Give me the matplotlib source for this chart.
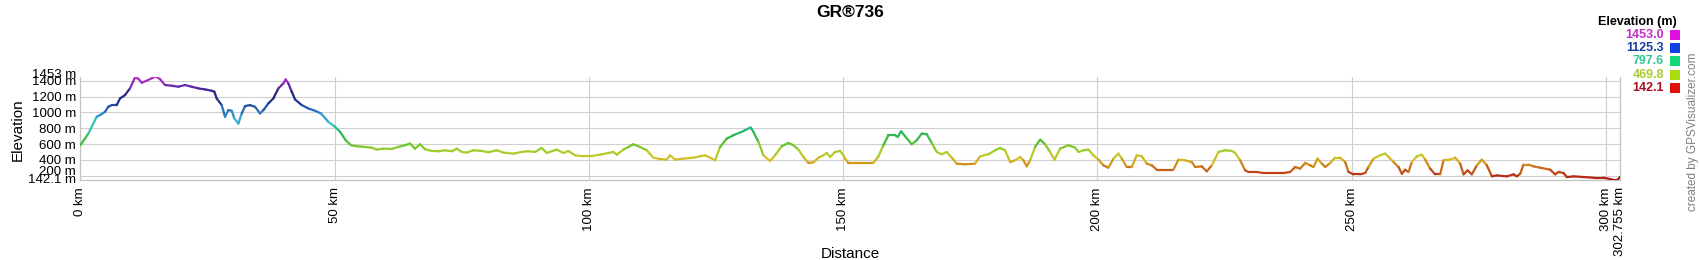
import matplotlib
matplotlib.use("Agg")
import matplotlib.pyplot as plt
import numpy as np
from matplotlib.collections import LineCollection
from matplotlib.colors import LinearSegmentedColormap, Normalize
from matplotlib.patches import Rectangle
from matplotlib.transforms import ScaledTranslation

plt.rcParams['font.family'] = ['Liberation Sans', 'DejaVu Sans']

# distance along the route (km) and elevation (m)
dist_km = [
    0, 1.58, 3.22, 3.87, 4.86, 5.51, 6.17, 7.15, 7.81, 8.79, 9.77, 10.76, 11.41,
    12.07, 13.05, 14.03, 14.8, 15.67, 16.66, 17.97, 19.28, 20.59, 21.90, 23.21,
    24.53, 25.83, 26.36, 26.82, 27.80, 28.46, 29.11, 29.77, 30.29, 31.08, 31.74,
    32.39, 33.37, 34.36, 35.34, 36.0, 36.98, 37.96, 38.95, 39.93, 40.39, 40.91,
    41.57, 42.23, 43.54, 44.85, 46.16, 47.34, 48.78, 49.96, 51.08, 52.19, 53.24,
    54.35, 55.99, 57.30, 58.28, 59.59, 61.23, 62.54, 63.85, 64.84, 65.82, 66.80,
    67.79, 69.10, 70.41, 71.72, 73.03, 74.02, 75.00, 75.99, 77.30,
    78.93, 80.24, 81.88, 83.19, 85.16, 86.8, 88.11, 89.42, 90.73, 91.71, 93.68,
    94.99, 95.97, 97.28, 98.92, 100.23, 102.2, 103.84, 104.82, 105.48, 106.79,
    107.77, 108.76, 110.07, 111.38, 112.69, 114.0, 115.31, 115.97, 116.95,
    118.59, 120.56, 121.87, 122.85, 123.83, 124.82, 125.8, 127.11, 128.42,
    130.06, 131.37, 131.83, 132.35, 133.34, 134.32, 135.63, 136.61, 137.93,
    139.24, 140.22, 141.2, 142.19, 143.17, 144.15, 145.14, 146.12, 146.78,
    147.43, 148.41, 149.4, 150.05,
    150.38, 151.04, 153.66, 155.95, 156.94, 157.92, 158.9, 160.21, 160.74,
    161.39, 162.18, 163.49, 164.47, 165.46, 166.44, 167.42, 168.41, 169.39,
    170.37, 171.36, 172.34, 173.98, 175.94, 176.93, 178.57, 179.88, 180.86,
    181.84, 182.83, 183.81, 184.8, 185.45, 186.11, 186.76, 187.74, 188.73,
    189.71, 190.69, 191.55, 192.66, 194.3, 195.61, 196.27, 197.25, 198.23,
    199.21, 200.2, 201.18, 202.16, 203.15, 204.13, 204.79, 205.77, 206.75,
    207.74, 208.72, 209.7, 210.69, 211.67, 213.31, 214.95, 215.93, 217.24,
    218.55, 219.21, 220.52, 221.5, 222.49, 223.8, 225.11, 226.42,
    227.08, 228.07, 229.05, 229.71, 231.34, 232.66, 234.62, 236.59, 237.9,
    238.88, 239.87, 240.85, 241.83, 242.49, 243.27, 244.13, 244.78, 245.77,
    246.75, 247.73, 248.71, 249.37, 250.35, 251.66, 252.65, 253.3, 254.29,
    255.6, 256.58, 257.24, 258.22, 259.2, 259.86, 260.51, 261.17, 261.82,
    262.81, 263.79, 264.45, 265.43, 266.41, 267.4, 268.05, 268.71, 269.36,
    270.35, 271.33, 271.99, 272.77, 273.62, 274.61, 275.59, 276.57, 277.56,
    278.54, 280.51, 281.82, 282.47, 283.13, 283.78, 284.77, 285.75, 287.06,
    289.03, 290.01, 290.67, 291.65, 292.31, 293.62, 295.58, 297.55, 299.52,
    300.83, 301.8, 302.3, 302.755,
]
elev_m = [
    585, 732, 944, 965, 1007, 1070, 1092, 1092, 1176, 1218, 1303, 1440, 1425,
    1375, 1400, 1430, 1453, 1420, 1345, 1337, 1324, 1345, 1324, 1303,
    1290, 1273, 1261, 1176, 1092, 944, 1028, 1020, 923, 859, 986,
    1079, 1092, 1070, 986, 1028, 1113, 1176, 1303, 1366, 1415, 1366,
    1261, 1163, 1092, 1049, 1020, 986, 880, 825, 754, 648, 585,
    572, 563, 555, 530, 542, 538, 563, 585, 606, 542, 597,
    534, 513, 509, 521, 509, 542, 500, 492, 521,
    513, 496, 521, 492, 479, 500, 509, 500, 551, 487, 530,
    487, 513, 458, 445, 445, 466, 487, 500, 466, 530,
    563, 597, 563, 521, 428, 411, 403, 458, 403,
    416, 428, 445, 458, 428, 394, 563, 669, 711,
    754, 796, 808, 754, 627, 458, 386, 458, 572,
    614, 585, 530, 437, 361, 369, 428, 458, 487,
    437, 500, 513, 458,
    416, 361, 361, 361, 445, 585, 711, 711, 690,
    762, 699, 597, 648, 732, 724, 614, 500, 471,
    500, 428, 352, 344, 352, 445, 471, 521, 551,
    521, 373, 394, 437, 394, 318, 394, 563, 656,
    597, 500, 403, 542, 585, 555, 500, 521, 530,
    458, 403, 331, 301, 416, 479, 416, 310, 310,
    458, 445, 352, 331, 276, 276, 276, 403, 394,
    373, 310, 318, 255, 331, 500, 521, 513,
    487, 394, 268, 247, 247, 234, 234, 234, 247,
    310, 289, 361, 331, 310, 416, 352, 310, 361,
    428, 428, 373, 247, 217, 217, 234, 310, 416,
    458, 479, 437, 373, 310, 225, 276, 247, 373,
    445, 466, 403, 289, 217, 217, 394, 394, 403,
    428, 352, 217, 268, 217, 331, 403, 331, 192,
    204, 192, 217, 192, 225, 340, 340, 318, 301,
    276, 217, 247, 234, 183, 192, 183, 175, 175,
    158, 142.1, 150, 185,
]

x_ticks = [0, 50, 100, 150, 200, 250, 300, 302.755]
x_labels = ['0 km', '50 km', '100 km', '150 km', '200 km', '250 km',
            '300 km', '302.755 km']
y_ticks = [142.1, 200, 400, 600, 800, 1000, 1200, 1400, 1453]
y_labels = ['142.1 m', '200 m', '400 m', '600 m', '800 m', '1000 m',
            '1200 m', '1400 m', '1453 m']

legend_vals = ['1453.0', '1125.3', '797.6', '469.8', '142.1']
legend_text_cols = ['#c030c8', '#1a3d9c', '#2fc88f', '#a8cc30', '#a81020']
legend_box_cols = ['#e010e0', '#1040e0', '#10d878', '#a8dc10', '#e01010']

elev_min, elev_max = 142.1, 1453.0

cmap = LinearSegmentedColormap.from_list('elev', [
    (0.00, '#b01414'),
    (0.08, '#c04a16'),
    (0.15, '#d08a1c'),
    (0.21, '#d4c226'),
    (0.27, '#a8d02a'),
    (0.33, '#78c82c'),
    (0.38, '#40c038'),
    (0.47, '#20b466'),
    (0.55, '#38c6d4'),
    (0.66, '#2a78be'),
    (0.75, '#1c3894'),
    (0.83, '#22247a'),
    (0.90, '#5a28a4'),
    (0.96, '#a030c8'),
    (1.00, '#cc30cc'),
])

fig = plt.figure(figsize=(17, 2.6), dpi=100)
ax = fig.add_axes([80.3 / 1700, 1 - 180.3 / 260, 1539.7 / 1700, 103.8 / 260])

x = np.array(dist_km)
y = np.array(elev_m)
pts = np.column_stack([x, y]).reshape(-1, 1, 2)
segs = np.concatenate([pts[:-1], pts[1:]], axis=1)
lc = LineCollection(segs, cmap=cmap, norm=Normalize(elev_min, elev_max),
                    linewidth=1.6, capstyle='round', joinstyle='round', zorder=3)
lc.set_array((y[:-1] + y[1:]) / 2)
ax.add_collection(lc)

ax.set_xlim(0, 302.755)
ax.set_ylim(elev_min, elev_max)
ax.set_xticks(x_ticks)
ax.set_xticklabels(x_labels, rotation=90)
ax.set_yticks(y_ticks)
ax.set_yticklabels(y_labels)
ax.tick_params(length=0, labelsize=9.5, colors='#000000')
ax.tick_params(axis='y', pad=3)
ax.tick_params(axis='x', pad=5)

# the crowded labels are nudged apart like in the original
nudges = {0: 1.5, 1: 5.5, 8: 3.5}
for i, lab in enumerate(ax.get_yticklabels()):
    if i in nudges:
        lab.set_transform(lab.get_transform() +
                          ScaledTranslation(0, nudges[i] / 100, fig.dpi_scale_trans))

ax.grid(True, color='#cfcfcf', linewidth=0.8, zorder=0)
ax.get_ygridlines()[-1].set_visible(False)
ax.spines['top'].set_visible(False)
for s in ['left', 'right', 'bottom']:
    ax.spines[s].set_color('#c4c4c4')
    ax.spines[s].set_linewidth(0.9)

ax.set_ylabel('Elevation', fontsize=11)
ax.yaxis.set_label_coords(-0.036, 0.49)
ax.set_xlabel('Distance', fontsize=11)
ax.xaxis.set_label_coords(0.5, -0.64)

fig.text(0.5, 1 - 12 / 260, 'GR®736', ha='center', va='center',
         fontsize=12.5, fontweight='bold')

# legend
fig.text(1677 / 1700, 1 - 21.5 / 260, 'Elevation (m)', ha='right', va='center',
         fontsize=9, fontweight='bold')
for i, (v, tc, bc) in enumerate(zip(legend_vals, legend_text_cols, legend_box_cols)):
    yc = 35 + i * 13.2
    fig.text(1664 / 1700, 1 - yc / 260, v, ha='right', va='center',
             fontsize=9, fontweight='bold', color=tc)
    fig.patches.append(Rectangle((1670 / 1700, 1 - (yc + 5) / 260), 10 / 1700, 10 / 260,
                                 transform=fig.transFigure, facecolor=bc,
                                 edgecolor='none', figure=fig))

fig.text(1693 / 1700, 1 - 131.5 / 260, 'created by GPSVisualizer.com',
         rotation=90, ha='center', va='center', fontsize=8.5, color='#808080')

fig.savefig('out.png', dpi=100, facecolor='white')
